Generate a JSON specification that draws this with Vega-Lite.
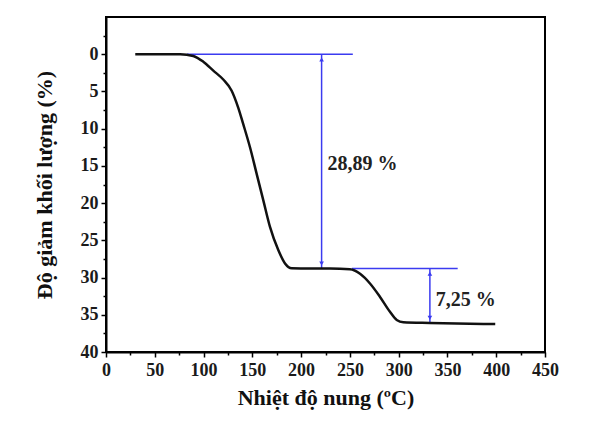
{
  "$schema": "https://vega.github.io/schema/vega-lite/v6.json",
  "width": 439,
  "height": 335,
  "autosize": {"type": "none"},
  "padding": {"left": 106, "top": 17, "right": 46, "bottom": 80},
  "background": "white",
  "config": {
    "view": {"stroke": "black", "strokeWidth": 2},
    "font": "Liberation Serif"
  },
  "resolve": {"axis": {"x": "independent", "y": "independent"}},
  "datasets": {
    "curve": [
      {"T": 30, "W": 0}, {"T": 50, "W": 0}, {"T": 76, "W": 0}, {"T": 89.5, "W": 0.23},
      {"T": 99.7, "W": 1.0}, {"T": 110, "W": 2.2}, {"T": 120.2, "W": 3.4}, {"T": 128.8, "W": 4.9},
      {"T": 135.6, "W": 7.2}, {"T": 140.7, "W": 9.4}, {"T": 147.6, "W": 12.5}, {"T": 154.5, "W": 16.1},
      {"T": 161.2, "W": 19.6}, {"T": 168.1, "W": 23.2}, {"T": 176.6, "W": 26.3}, {"T": 183.5, "W": 28.1},
      {"T": 190.4, "W": 28.75}, {"T": 209, "W": 28.8}, {"T": 229.6, "W": 28.8}, {"T": 250, "W": 28.9},
      {"T": 260.4, "W": 29.5}, {"T": 270.6, "W": 30.8}, {"T": 280.9, "W": 32.6}, {"T": 291.1, "W": 34.6},
      {"T": 298, "W": 35.7}, {"T": 304.8, "W": 36.0}, {"T": 332, "W": 36.1}, {"T": 399, "W": 36.25}
    ],
    "rules": [
      {"x1": 83, "x2": 253, "y1": 0, "y2": 0},
      {"x1": 221, "x2": 221, "y1": 0, "y2": 28.8},
      {"x1": 252, "x2": 360.5, "y1": 28.8, "y2": 28.8},
      {"x1": 332, "x2": 332, "y1": 28.8, "y2": 36.1}
    ],
    "tipsUp": [{"x": 221, "y": 0.7}, {"x": 332, "y": 29.5}],
    "tipsDown": [{"x": 221, "y": 28.1}, {"x": 332, "y": 35.4}],
    "labels": [
      {"x": 227, "y": 14.8, "text": "28,89 %"},
      {"x": 338, "y": 33.0, "text": "7,25 %"}
    ]
  },
  "layer": [
    {
      "data": {"name": "rules"},
      "mark": {"type": "rule", "color": "#3b3bf0", "strokeWidth": 1.5},
      "encoding": {
        "x": {
          "field": "x1", "type": "quantitative",
          "scale": {"domain": [0, 450], "nice": false, "zero": false},
          "axis": {
            "orient": "bottom", "title": null, "labels": false, "domain": false, "grid": false,
            "values": [25, 75, 125, 175, 225, 275, 325, 375, 425],
            "tickColor": "black", "tickWidth": 1.5, "tickSize": 3
          }
        },
        "x2": {"field": "x2"},
        "y": {
          "field": "y1", "type": "quantitative",
          "scale": {"domain": [-5, 40], "nice": false, "zero": false, "reverse": true},
          "axis": {
            "orient": "left", "title": null, "labels": false, "domain": false, "grid": false,
            "values": [-2.5, 2.5, 7.5, 12.5, 17.5, 22.5, 27.5, 32.5, 37.5],
            "tickColor": "black", "tickWidth": 1.5, "tickSize": 3
          }
        },
        "y2": {"field": "y2"}
      }
    },
    {
      "data": {"name": "tipsUp"},
      "mark": {"type": "point", "shape": "triangle-up", "filled": true, "color": "#3b3bf0", "size": 22, "opacity": 1},
      "encoding": {
        "x": {"field": "x", "type": "quantitative", "axis": null},
        "y": {"field": "y", "type": "quantitative", "axis": null}
      }
    },
    {
      "data": {"name": "tipsDown"},
      "mark": {"type": "point", "shape": "triangle-down", "filled": true, "color": "#3b3bf0", "size": 22, "opacity": 1},
      "encoding": {
        "x": {"field": "x", "type": "quantitative", "axis": null},
        "y": {"field": "y", "type": "quantitative", "axis": null}
      }
    },
    {
      "data": {"name": "curve"},
      "mark": {"type": "line", "color": "#111111", "strokeWidth": 2.5, "interpolate": "monotone"},
      "encoding": {
        "x": {
          "field": "T", "type": "quantitative",
          "axis": {
            "orient": "bottom",
            "title": "Nhiệt độ nung (ºC)",
            "values": [0, 50, 100, 150, 200, 250, 300, 350, 400, 450],
            "grid": false,
            "domainColor": "black", "domainWidth": 2,
            "tickColor": "black", "tickWidth": 1.5, "tickSize": 5,
            "labelFont": "Liberation Serif", "labelFontWeight": "bold", "labelFontSize": 18, "labelColor": "#1a1a1a",
            "labelPadding": 4, "labelFlush": false, "labelOverlap": false,
            "titleFont": "Liberation Serif", "titleFontWeight": "bold", "titleFontSize": 22, "titleColor": "#111111",
            "titlePadding": 8
          }
        },
        "y": {
          "field": "W", "type": "quantitative",
          "axis": {
            "orient": "left",
            "title": "Độ giảm khối lượng (%)",
            "values": [0, 5, 10, 15, 20, 25, 30, 35, 40],
            "grid": false,
            "domainColor": "black", "domainWidth": 2,
            "tickColor": "black", "tickWidth": 1.5, "tickSize": 5,
            "labelFont": "Liberation Serif", "labelFontWeight": "bold", "labelFontSize": 18, "labelColor": "#1a1a1a",
            "labelPadding": 3, "labelFlush": false, "labelOverlap": false,
            "titleFont": "Liberation Serif", "titleFontWeight": "bold", "titleFontSize": 22, "titleColor": "#111111",
            "titlePadding": 24
          }
        }
      }
    },
    {
      "data": {"name": "labels"},
      "mark": {"type": "text", "align": "left", "baseline": "middle", "font": "Liberation Serif", "fontWeight": "bold", "fontSize": 20, "color": "#222222"},
      "encoding": {
        "x": {"field": "x", "type": "quantitative", "axis": null},
        "y": {"field": "y", "type": "quantitative", "axis": null},
        "text": {"field": "text"}
      }
    }
  ]
}
